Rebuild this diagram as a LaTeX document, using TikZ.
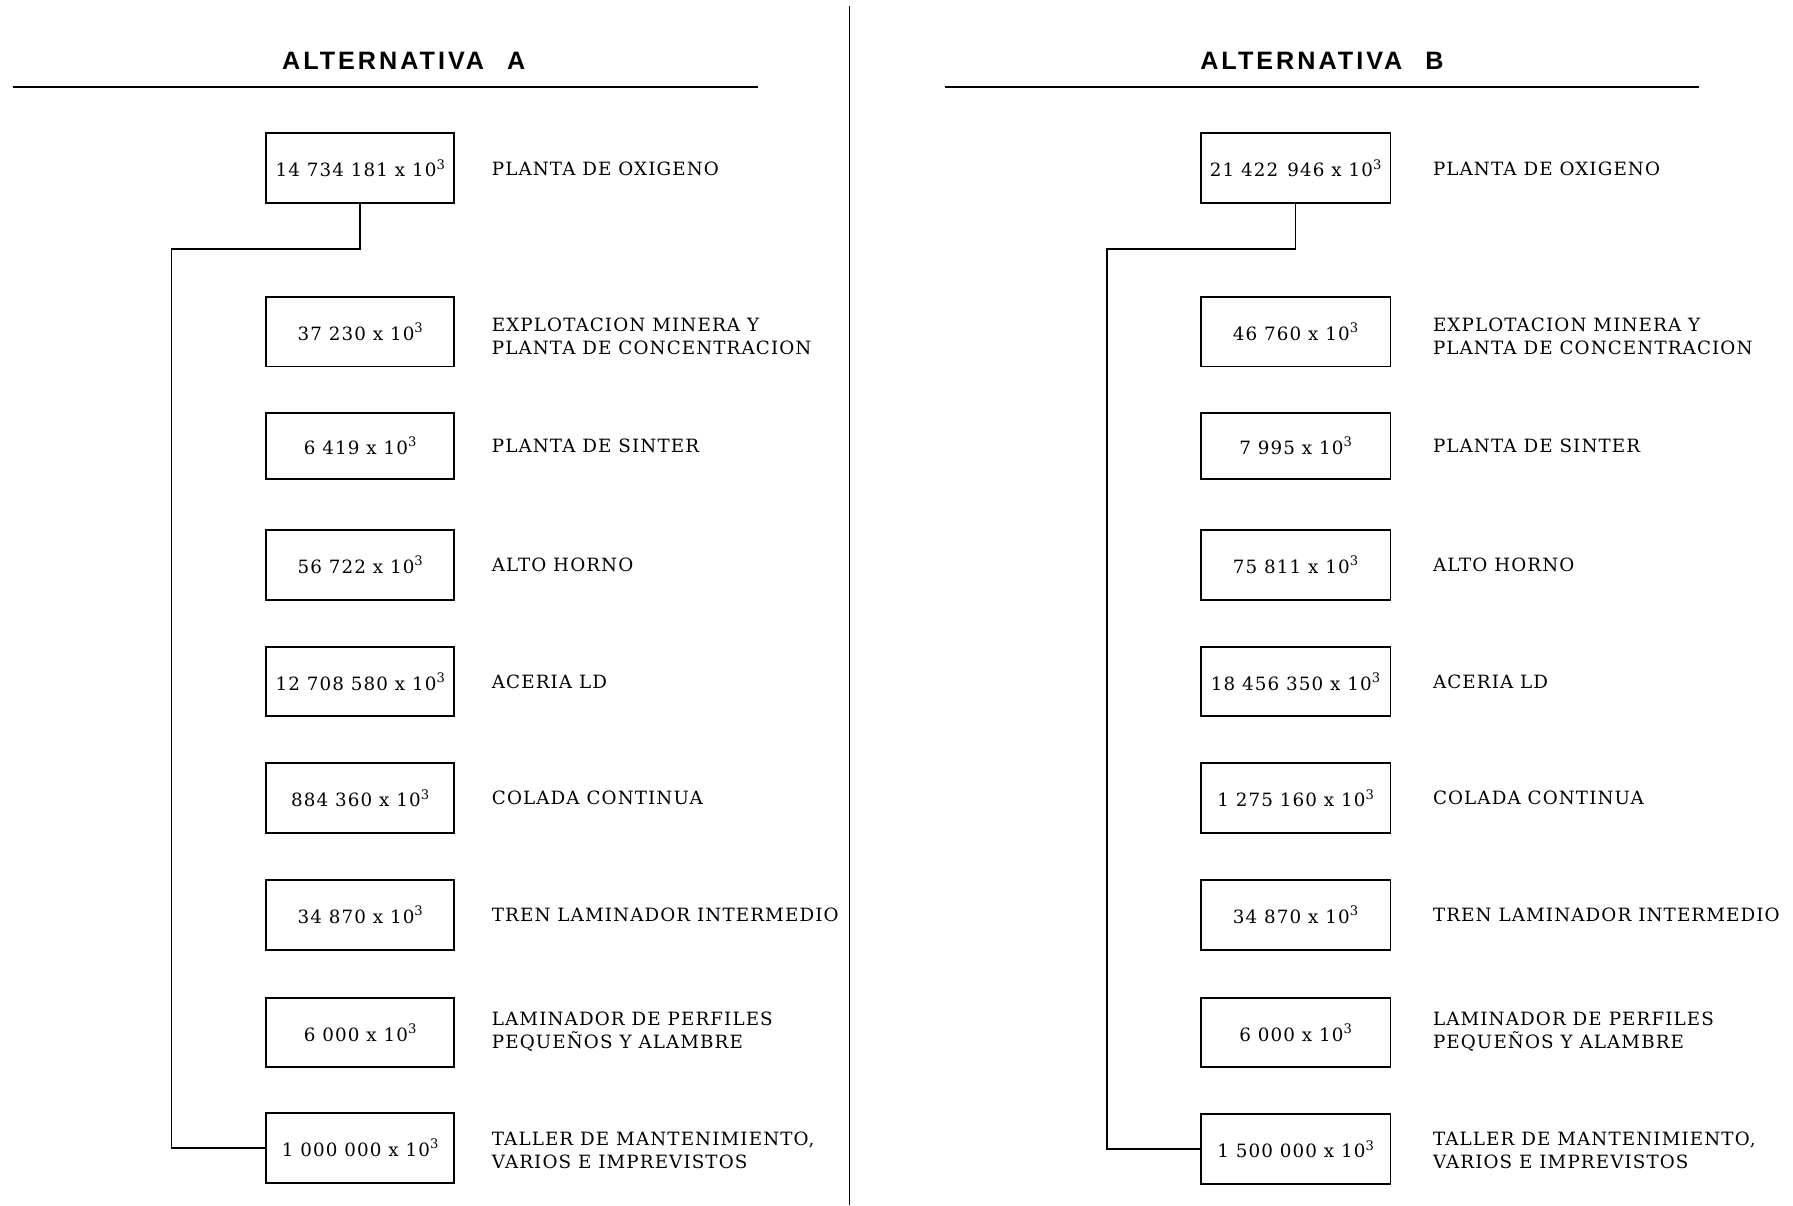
\documentclass[tikz,border=0pt]{standalone}
\usepackage{fontspec}
\setmainfont{DejaVu Serif}[LetterSpace=6]
\newfontfamily\titlefont{Liberation Sans}[LetterSpace=12]
\newcommand{\tens}{x 10\raisebox{0.42em}{\fontsize{11.5}{12}\selectfont 3}}
\begin{document}
\begin{tikzpicture}[x=1pt,y=-1pt,
  numbox/.style={draw, line width=1.7pt, minimum width=164pt, minimum height=61pt, inner sep=0pt,
    font=\fontsize{16}{18}\selectfont},
  lbl/.style={anchor=west, align=left, inner sep=0pt, font=\fontsize{16}{20}\selectfont},
  ttl/.style={inner sep=0pt, font=\titlefont\bfseries\fontsize{22}{24}\selectfont},
  conn/.style={line width=1.5pt},
  rulel/.style={line width=2pt}]
\useasboundingbox (0,0) rectangle (1568,1054);
% divider
\coordinate (dTop) at (743,5);
\coordinate (dBot) at (743,1054);
\draw[conn] (dTop) -- (dBot);
% titles and rules
\node[ttl] (tA) at (353,53) {ALTERNATIVA\hspace{20pt}A};
\node[ttl] (tB) at (1156,53) {ALTERNATIVA\hspace{20pt}B};
\coordinate (rA1) at (11,76); \coordinate (rA2) at (663,76);
\coordinate (rB1) at (826,76); \coordinate (rB2) at (1486,76);
\draw[rulel] (rA1) -- (rA2);
\draw[rulel] (rB1) -- (rB2);
% Alternativa A
\node[numbox] (A1) at (315,147) {14 734 181 \tens};
\node[numbox] (A2) at (315,290) {37 230 \tens};
\node[numbox, minimum height=58pt] (A3) at (315,390) {6 419 \tens};
\node[numbox] (A4) at (315,494) {56 722 \tens};
\node[numbox] (A5) at (315,596) {12 708 580 \tens};
\node[numbox] (A6) at (315,698) {884 360 \tens};
\node[numbox] (A7) at (315,800) {34 870 \tens};
\node[numbox] (A8) at (315,903) {6 000 \tens};
\node[numbox] (A9) at (315,1004) {1 000 000 \tens};
\node[lbl] (LA1) at (430,148) {PLANTA DE OXIGENO};
\node[lbl] (LA2) at (430,294) {EXPLOTACION MINERA Y\\PLANTA DE CONCENTRACION};
\node[lbl] (LA3) at (430,390) {PLANTA DE SINTER};
\node[lbl] (LA4) at (430,494) {ALTO HORNO};
\node[lbl] (LA5) at (430,596) {ACERIA LD};
\node[lbl] (LA6) at (430,698) {COLADA CONTINUA};
\node[lbl] (LA7) at (430,800) {TREN LAMINADOR INTERMEDIO};
\node[lbl] (LA8) at (430,902) {LAMINADOR DE PERFILES\\PEQUEÑOS Y ALAMBRE};
\node[lbl] (LA9) at (430,1006) {TALLER DE MANTENIMIENTO,\\VARIOS E IMPREVISTOS};
\coordinate (cA) at (150,218);
\draw[conn] (A1.south) |- (cA) |- (A9.west);
% Alternativa B
\begin{scope}[numbox/.append style={minimum width=166pt}]
\node[numbox] (B1) at (1133,147) {21 422\enspace 946 \tens};
\node[numbox] (B2) at (1133,290) {46 760 \tens};
\node[numbox, minimum height=58pt] (B3) at (1133,390) {7 995 \tens};
\node[numbox] (B4) at (1133,494) {75 811 \tens};
\node[numbox] (B5) at (1133,596) {18 456 350 \tens};
\node[numbox] (B6) at (1133,698) {1 275 160 \tens};
\node[numbox] (B7) at (1133,800) {34 870 \tens};
\node[numbox] (B8) at (1133,903) {6 000 \tens};
\node[numbox] (B9) at (1133,1005) {1 500 000 \tens};
\end{scope}
\node[lbl] (LB1) at (1253,148) {PLANTA DE OXIGENO};
\node[lbl] (LB2) at (1253,294) {EXPLOTACION MINERA Y\\PLANTA DE CONCENTRACION};
\node[lbl] (LB3) at (1253,390) {PLANTA DE SINTER};
\node[lbl] (LB4) at (1253,494) {ALTO HORNO};
\node[lbl] (LB5) at (1253,596) {ACERIA LD};
\node[lbl] (LB6) at (1253,698) {COLADA CONTINUA};
\node[lbl] (LB7) at (1253,800) {TREN LAMINADOR INTERMEDIO};
\node[lbl] (LB8) at (1253,902) {LAMINADOR DE PERFILES\\PEQUEÑOS Y ALAMBRE};
\node[lbl] (LB9) at (1253,1006) {TALLER DE MANTENIMIENTO,\\VARIOS E IMPREVISTOS};
\coordinate (cB) at (968,218);
\draw[conn] (B1.south) |- (cB) |- (B9.west);
\end{tikzpicture}
\end{document}
